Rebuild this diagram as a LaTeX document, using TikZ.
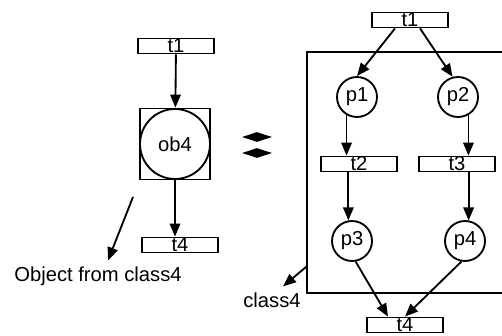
\documentclass[tikz,border=0pt]{standalone}
\usepackage{fontspec}
\setmainfont{Liberation Sans}
\usetikzlibrary{shapes.geometric, arrows.meta, positioning, calc}
\tikzset{
    transition/.style={rectangle, draw, line width=1.05pt, minimum width=1.52cm, minimum height=0.3cm, inner sep=0pt},
    place/.style={circle, draw, line width=1.05pt, minimum size=0.8cm, inner sep=0pt},
    object box/.style={rectangle, draw, line width=1.05pt, minimum width=1.4cm, minimum height=1.42cm},
    object place/.style={circle, draw, line width=1.05pt, minimum size=1.4cm, inner sep=0pt},
    class box/.style={rectangle, draw, line width=1.05pt, minimum width=4.06cm, minimum height=4.82cm},
    equiv/.style={diamond, fill=black, aspect=3, minimum width=0.6cm, minimum height=0.2cm, inner sep=0pt},
    flow/.style={-{Triangle[length=0.26cm, width=0.21cm]}, line width=1.05pt}
}

\begin{document}
\begin{tikzpicture}[x=0.02cm, y=0.02cm, font=\fontsize{11.5}{13}\selectfont]
    \useasboundingbox (0,0) rectangle (502,335);

    % object of class4
    \node[transition] (lt1) at (176,289) {t1};
    \node[object box] (ob4) at (175,191) {};
    \node[object place] (ob4c) at (175,191) {ob4};
    \node[transition] (lt4) at (180,90) {t4};
    \node (objtext) at (98,59) {Object from class4};
    \coordinate (objfrom) at (133,138);

    % equivalence mark
    \node[equiv] (eqtop) at (257,198) {};
    \node[equiv] (eqbot) at (257,182) {};

    % net of class4
    \node[class box] (cls) at (408.5,162.5) {};
    \node[transition] (rt1) at (410,315) {t1};
    \node[place] (p1) at (357,238) {p1};
    \node[place] (p2) at (458,238) {p2};
    \node[transition] (t2) at (359,171) {t2};
    \node[transition] (t3) at (457,171) {t3};
    \node[place] (p3) at (352,94) {p3};
    \node[place] (p4) at (465,94) {p4};
    \node[transition] (rt4) at (405,10) {t4};
    \node (clstext) at (272,35) {class4};

    \draw[flow] (lt1) -- (ob4);
    \draw[flow] (ob4.south) -- (ob4.south |- lt4.north);
    \draw[flow] (objfrom) -- ([xshift=0.2cm]objtext.north);

    \draw[flow] ([xshift=-0.3cm]rt1.south) -- (p1.north);
    \draw[flow] ([xshift=0.2cm]rt1.south) -- (p2.105);
    \draw[flow] (p1.240) -- (p1.240 |- t2.north);
    \draw[flow] (p2.300) -- (p2.300 |- t3.north);
    \draw[flow] (p3.100 |- t2.south) -- (p3.100);
    \draw[flow] (p4.80 |- t3.south) -- (p4.80);
    \draw[flow] (p3.280) -- ([xshift=-0.34cm]rt4.north);
    \draw[flow] (p4.260) -- (rt4.north);
    \draw[flow] ($(cls.south west)+(0,27)$) -- ([xshift=0.22cm]clstext.north);
\end{tikzpicture}
\end{document}
